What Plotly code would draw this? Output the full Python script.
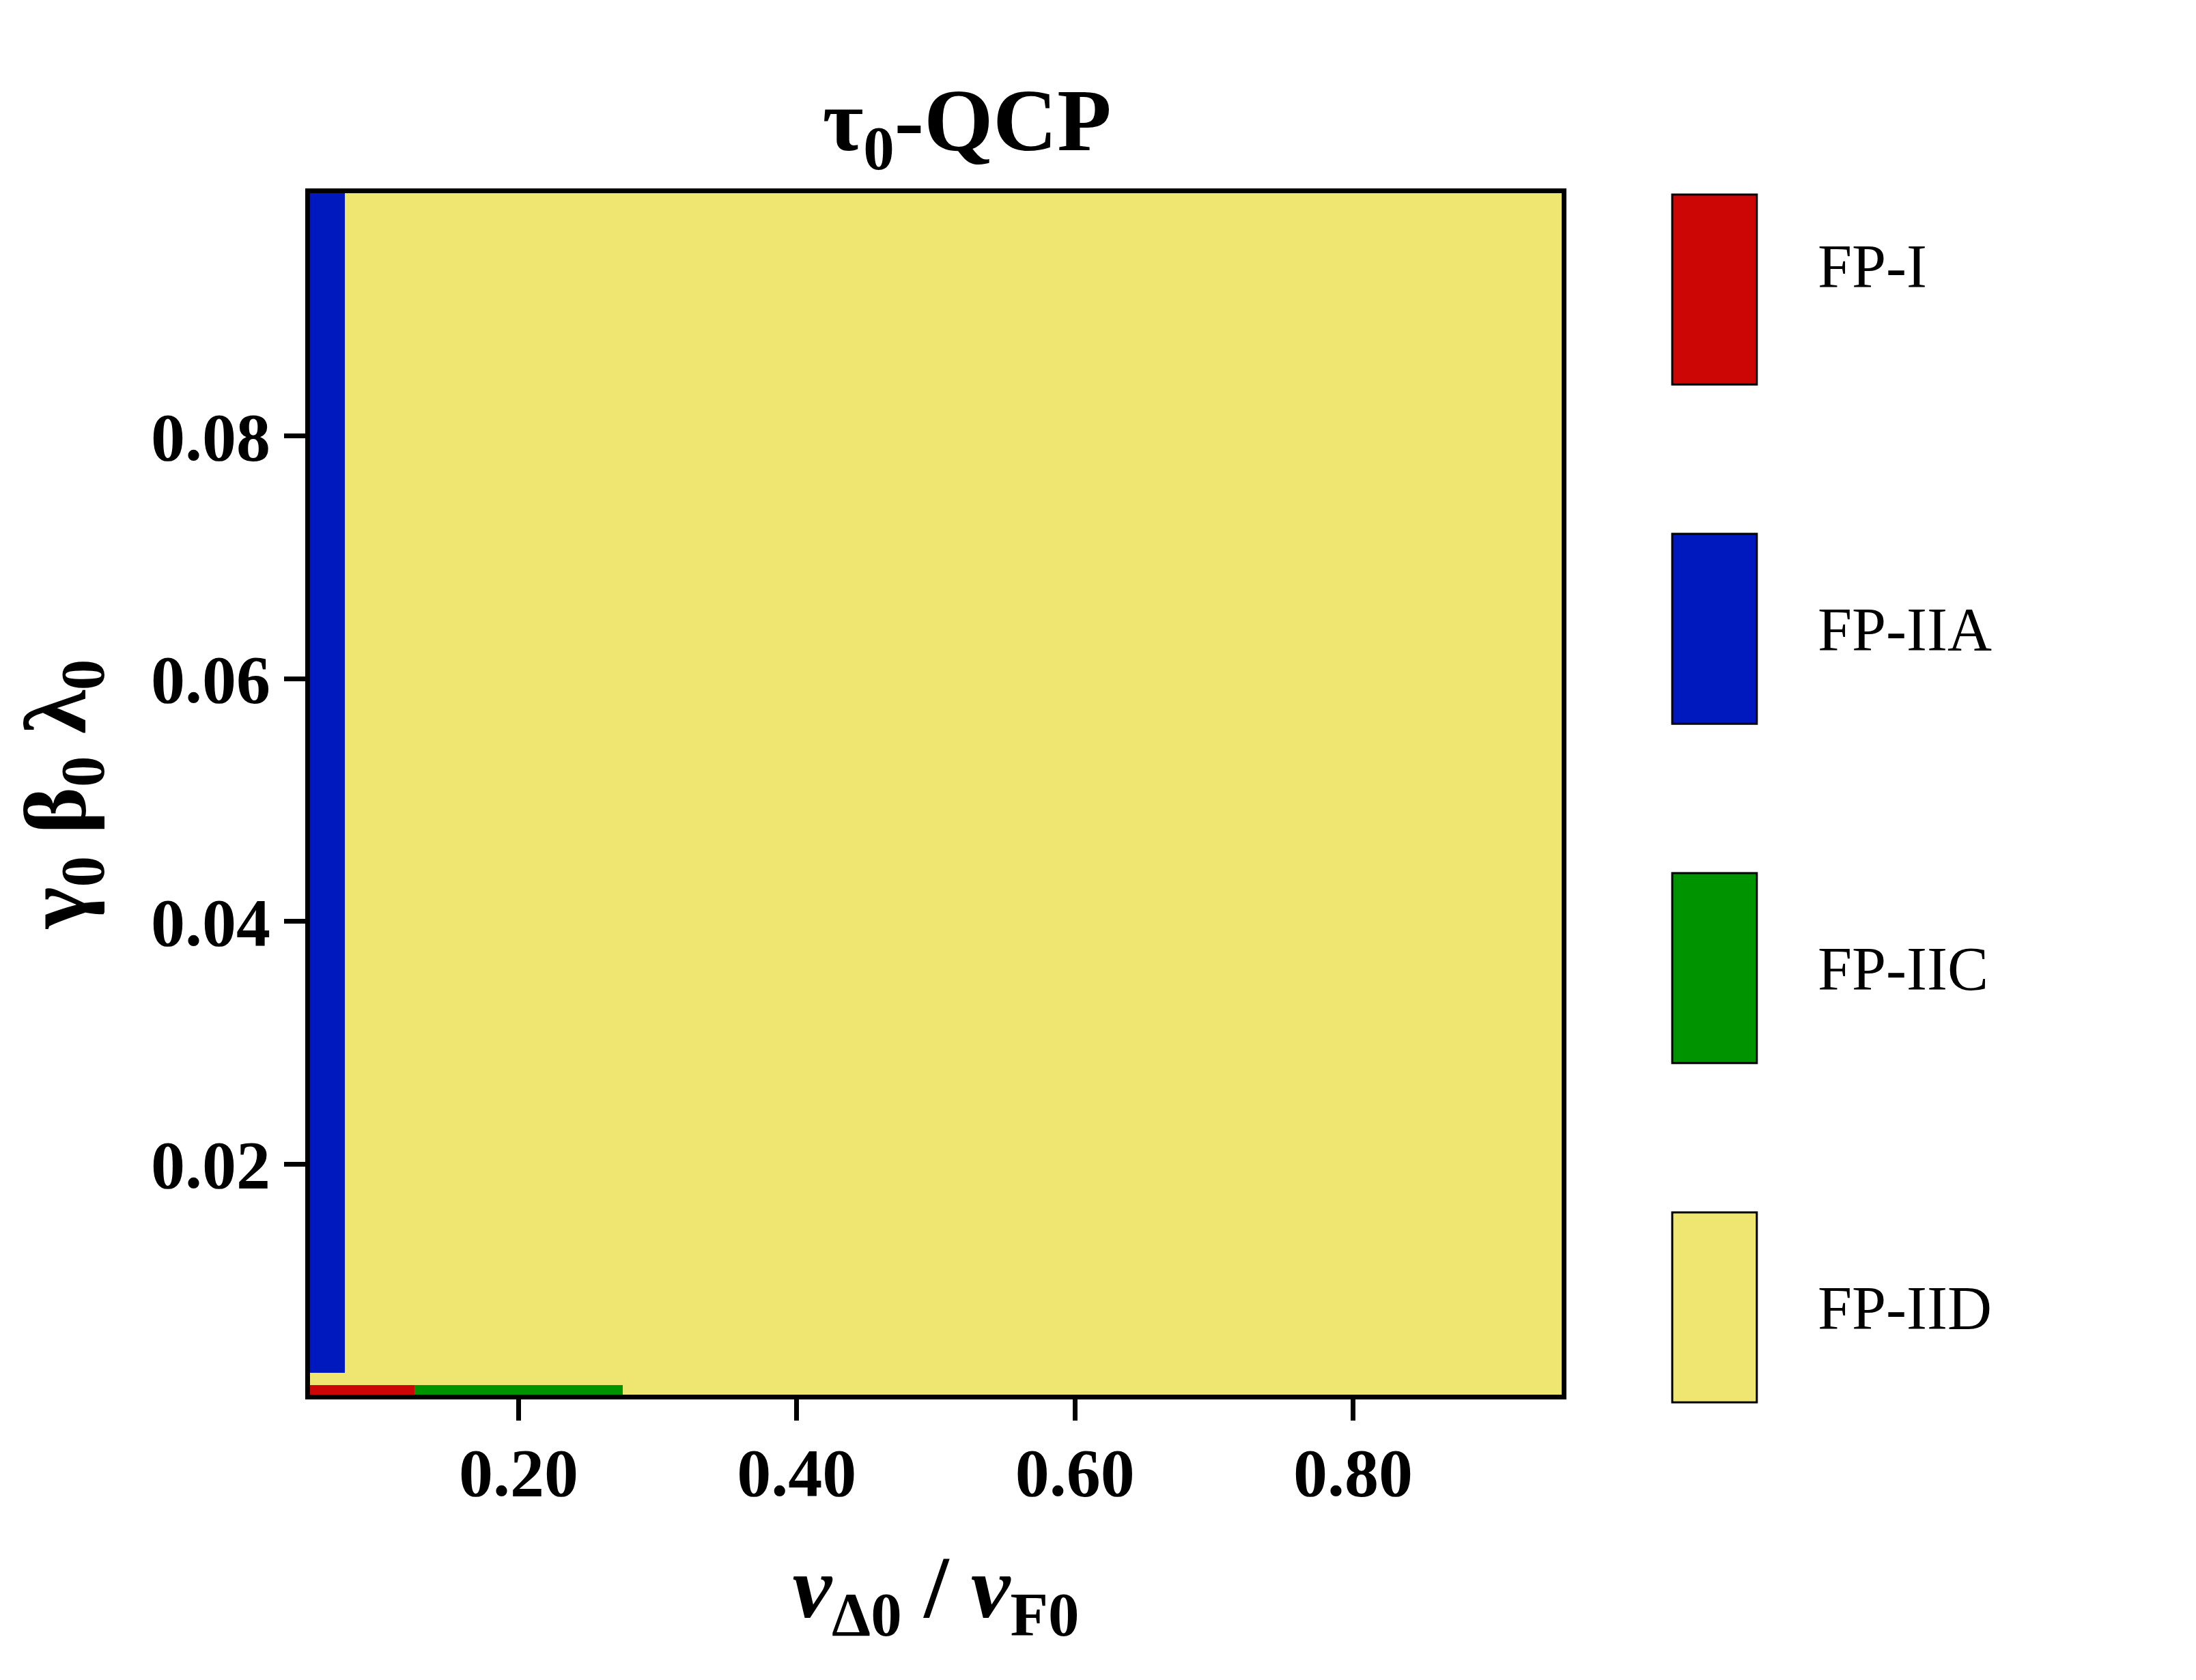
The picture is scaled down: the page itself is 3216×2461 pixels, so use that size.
import plotly.graph_objects as go

# phase diagram of the tau0-QCP: which fixed point the flow ends in
PHASES = ["FP-I", "FP-IIA", "FP-IIC", "FP-IID"]
PHASE_COLORS = ["#CC0505", "#0019BF", "#009300", "#EEE670"]

# cell edges of the scanned grid (v_delta/v_F horizontally, gamma*beta*lambda vertically)
V_RATIO_EDGES = [0.05, 0.075, 0.125, 0.275, 0.95]
COUPLING_EDGES = [0.001, 0.0018, 0.0028, 0.1]
# phase index per cell, rows go bottom -> top, columns left -> right
PHASE_MAP = [
    [0, 0, 2, 3],
    [3, 3, 3, 3],
    [1, 3, 3, 3],
]

X_TICKS = [0.2, 0.4, 0.6, 0.8]
Y_TICKS = [0.02, 0.04, 0.06, 0.08]
KEY_SLOTS = [0, 1, 2, 3]
KEY_LABEL_POS = [-0.07, 1, 2, 3]

# the page body adds an 8px margin, so the figure is a bit smaller than the window
W, H = 3200, 2445
FONT = "Times New Roman, Liberation Serif, Times, serif"
INK = "black"

n = len(PHASES)
scale = [[i / (n - 1), c] for i, c in enumerate(PHASE_COLORS)]

fig = go.Figure()
fig.add_trace(go.Heatmap(
    x=V_RATIO_EDGES, y=COUPLING_EDGES, z=PHASE_MAP,
    zmin=0, zmax=n - 1, colorscale=scale, showscale=False,
    hoverinfo="skip"))

# colour key on the right, drawn as bars on their own axes
fig.add_trace(go.Bar(
    x=[1] * n, y=KEY_SLOTS, base=0, orientation="h", width=0.56,
    marker=dict(color=PHASE_COLORS, line=dict(color=INK, width=3)),
    xaxis="x2", yaxis="y2", showlegend=False, hoverinfo="skip"))

axis_common = dict(
    showline=True, linecolor=INK, linewidth=7, mirror=True,
    ticks="outside", ticklen=31, tickwidth=7, tickcolor=INK,
    showgrid=False, zeroline=False, automargin=False,
    tickfont=dict(family=FONT, size=100, color=INK, weight="bold"),
)

fig.update_layout(
    width=W, height=H, template=None,
    paper_bgcolor="white", plot_bgcolor="white",
    margin=dict(l=446, r=629, t=275, b=383),
    font=dict(family=FONT, color=INK),
    showlegend=False,
    title=dict(text="<b>τ<sub>0</sub>-QCP</b>", font=dict(family=FONT, size=130),
               xref="paper", x=0.4527, xanchor="center",
               yref="container", y=0.9317, yanchor="middle"),
    xaxis=dict(axis_common, domain=[0, 0.8626], range=[0.05, 0.95],
               tickvals=X_TICKS, tickformat=".2f", ticklabelstandoff=-10,
               title=dict(text="<b><i>v</i><sub>Δ0</sub> / <i>v</i><sub>F0</sub></b>",
                          font=dict(family=FONT, size=130), standoff=68)),
    yaxis=dict(axis_common, domain=[0.0151, 1], range=[0.001, 0.1],
               tickvals=Y_TICKS, tickformat=".2f",
               title=dict(text="<b>γ<sub>0</sub> β<sub>0</sub> λ<sub>0</sub></b>",
                          font=dict(family=FONT, size=130), standoff=54)),
    xaxis2=dict(domain=[0.9359, 1], range=[-0.05, 1.05], visible=False,
                anchor="y2", fixedrange=True),
    yaxis2=dict(domain=[0, 1], range=[3.3116, -0.284], anchor="x2", side="right",
                showline=False, showgrid=False, zeroline=False, ticks="",
                tickvals=KEY_LABEL_POS, ticktext=PHASES, ticklabelstandoff=82,
                automargin=False,
                tickfont=dict(family=FONT, size=90, color=INK)),
)

fig.write_html("out.html")
